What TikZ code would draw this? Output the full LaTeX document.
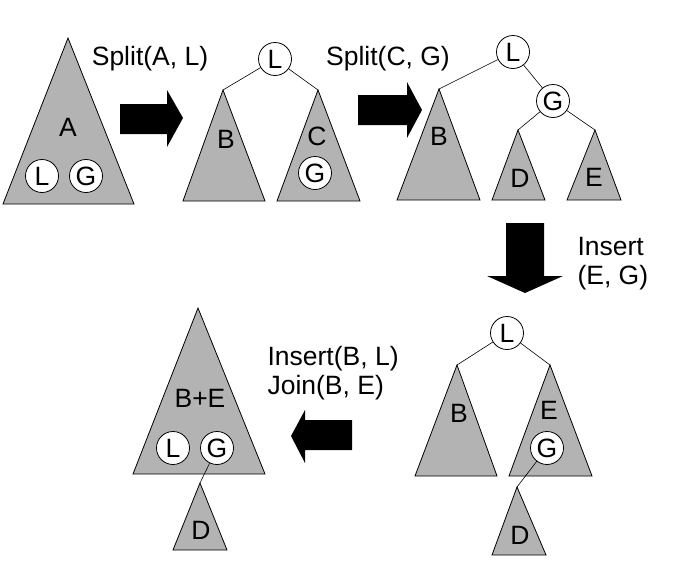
\documentclass[tikz,border=0pt]{standalone}
\usepackage{fontspec}
\setmainfont{Liberation Sans}
\definecolor{treegray}{RGB}{179,179,179}
\tikzset{
  subtree/.style={draw=black, fill=treegray, line width=0.8pt, line join=miter},
  keynode/.style={circle, draw=black, fill=white, line width=0.8pt, minimum size=33pt, inner sep=0pt},
  edge/.style={line width=0.6pt},
  bigarrow/.style={fill=black}
}
\begin{document}
\begin{tikzpicture}[x=1pt,y=-1pt,font=\fontsize{26.5}{29}\selectfont]
\useasboundingbox (0,0) rectangle (691,576);
%%% step 1: the whole tree A
\draw[subtree] (68,38) coordinate (A-top) -- (134,204) -- (3,204) -- cycle;
\node (A-lab) at (68,127) {A};
\node[keynode] (A-L) at (42,176) {L};
\node[keynode] (A-G) at (86,176) {G};
% arrow: split A at L
\fill[bigarrow] (120,104) -- (167,104) -- (167,90) -- (183,118) -- (167,147) -- (167,134) -- (120,134) -- cycle;
\node (split1) at (150,59) {Split(A, L)};
%%% step 2
\node[keynode] (s2-L) at (275,59) {L};
\draw[subtree] (223,90) coordinate (s2-Btop) -- (265,201) -- (183,201) -- cycle;
\draw[subtree] (318,90) coordinate (s2-Ctop) -- (360,201) -- (277,201) -- cycle;
\node (s2-B) at (226,139) {B};
\node (s2-C) at (317,136) {C};
\node[keynode] (s2-G) at (315,173) {G};
\draw[edge] (s2-L) -- (s2-Btop);
\draw[edge] (s2-L) -- (s2-Ctop);
% arrow: split C at G
\fill[bigarrow] (358,95) -- (407,95) -- (407,82) -- (422,110) -- (407,138) -- (407,125) -- (358,125) -- cycle;
\node (split2) at (388,59) {Split(C, G)};
%%% step 3
\node[keynode] (s3-L) at (513,52) {L};
\node[keynode] (s3-G) at (553,101) {G};
\draw[subtree] (439,89) coordinate (s3-Btop) -- (480,200) -- (397,200) -- cycle;
\draw[subtree] (518,130) coordinate (s3-Dtop) -- (545,200) -- (492,200) -- cycle;
\draw[subtree] (595,130) coordinate (s3-Etop) -- (621,200) -- (567,200) -- cycle;
\node (s3-B) at (439,136) {B};
\node (s3-D) at (520,178) {D};
\node (s3-E) at (594,177) {E};
\draw[edge] (s3-L) -- (s3-Btop);
\draw[edge] (s3-L) -- (s3-G);
\draw[edge] (s3-G) -- (s3-Dtop);
\draw[edge] (s3-G) -- (s3-Etop);
% arrow: insert G into E
\fill[bigarrow] (506,223) -- (544,223) -- (544,276) -- (563,276) -- (525,293) -- (487,276) -- (506,276) -- cycle;
\node[anchor=west, align=left] (ins1) at (574,264) {Insert\\(E, G)};
%%% step 4
\node[keynode] (s4-L) at (507,333) {L};
\draw[subtree] (457,365) coordinate (s4-Btop) -- (497,476) -- (415,476) -- cycle;
\draw[subtree] (550,365) coordinate (s4-Etop) -- (592,476) -- (509,476) -- cycle;
\node (s4-B) at (459,413) {B};
\node (s4-E) at (549,410) {E};
\node[keynode] (s4-G) at (547,448) {G};
\draw[subtree] (517,487) coordinate (s4-Dtop) -- (546,555) -- (492,555) -- cycle;
\node (s4-D) at (520,535) {D};
\draw[edge] (s4-L) -- (s4-Btop);
\draw[edge] (s4-L) -- (s4-Etop);
\draw[edge] (s4-G) -- (s4-Dtop);
% arrow: insert L into B, then join B and E
\fill[bigarrow] (352,420) -- (305,420) -- (305,410) -- (291,436) -- (305,463) -- (305,450) -- (352,450) -- cycle;
\node[anchor=west, align=left] (ins2) at (264,373) {Insert(B, L)\\Join(B, E)};
%%% step 5
\draw[subtree] (198,308) coordinate (s5-top) -- (265,474) -- (133,474) -- cycle;
\node (s5-lab) at (200,398) {B+E};
\node[keynode] (s5-L) at (173,448) {L};
\node[keynode] (s5-G) at (217,448) {G};
\draw[subtree] (200,483) coordinate (s5-Dtop) -- (227,550) -- (173,550) -- cycle;
\node (s5-D) at (201,530) {D};
\draw[edge] (s5-G) -- (s5-Dtop);
\end{tikzpicture}
\end{document}
